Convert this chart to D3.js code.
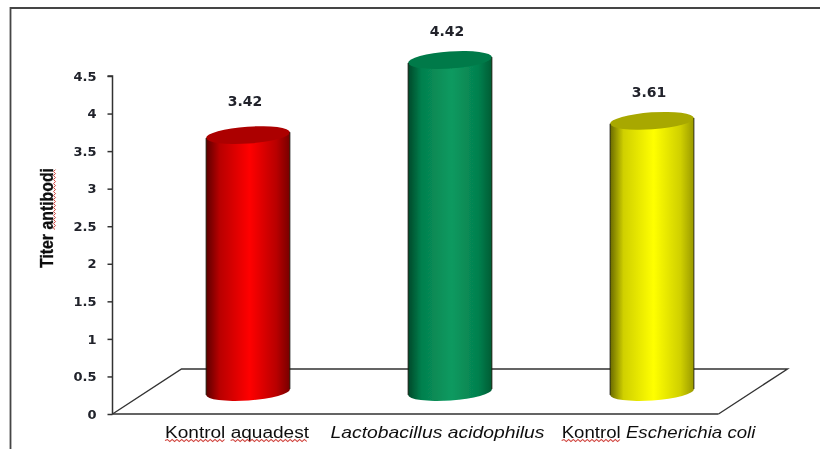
<!DOCTYPE html>
<html><head><meta charset="utf-8">
<script src="https://cdn.jsdelivr.net/npm/d3@7/dist/d3.min.js"></script>
<style>html,body{margin:0;padding:0;background:#fff;overflow:hidden}svg{display:block}</style>
</head><body><svg id="c" width="820" height="449"></svg>
<script>
const categories = ["Kontrol aquadest", "Lactobacillus acidophilus", "Kontrol Escherichia coli"];
const values = [3.42, 4.42, 3.61];
const yTicks = [0, 0.5, 1, 1.5, 2, 2.5, 3, 3.5, 4, 4.5];
const barColors = [
  ["#5c0000", "#b80000", "#ff0000", "#780000"],
  ["#00482a", "#05804e", "#0a9a60", "#005c34"],
  ["#6a6a00", "#d0d000", "#ffff00", "#9a9a00"]
];
const topColors = ["#ac0000", "#047a48", "#a8a800"];
const valueGap = [29, 24, 24];
const capLabels = [
  [{t:"Kontrol", wavy:true},{t:" "},{t:"aquadest", wavy:true}],
  [{t:"Lactobacillus acidophilus", it:true}],
  [{t:"Kontrol", wavy:true},{t:" "},{t:"Escherichia coli", it:true}]
];
const svg = d3.select("#c");
const defs = svg.append("defs");
defs.append("filter").attr("id","soft").attr("filterUnits","userSpaceOnUse")
  .attr("x",0).attr("y",0).attr("width",820).attr("height",449)
  .append("feGaussianBlur").attr("stdDeviation",0.6);
const g = svg.append("g").attr("filter","url(#soft)");

const W=820,H=449;
const x0=112.5, x1=718.5, y0=414, yTop=76, dx=69, dy=-45;
const y = d3.scaleLinear().domain([0,4.5]).range([y0,yTop]);
const x = d3.scaleBand().domain(categories).range([x0,x1]);
const baseY = y0 + dy/2 + 0.5;
const rx = 42, ry = 8.5, tilt = -4;

// frame
g.append("path").attr("d",`M${W},8 H10.5 V${H}`).attr("fill","none").attr("stroke","#444").attr("stroke-width",1.8);

// floor
g.append("path").attr("fill","none").attr("stroke","#333").attr("stroke-width",1.4)
 .attr("d",`M${x0},${y0} L${x0+dx},${y0+dy} H${x1+dx} L${x1},${y0}`);

// axis
const axis = g.append("g").attr("transform",`translate(${x0},0)`)
  .call(d3.axisLeft(y).tickValues(yTicks).tickSize(5).tickPadding(11).tickFormat(d3.format("~g")));
axis.selectAll("path,line").attr("stroke","#333").attr("stroke-width",1.5);
axis.select(".domain").attr("d",`M-5,${yTop}H0V${y0}H${x1-x0}`);
axis.selectAll("text").attr("font-family","'DejaVu Sans'").attr("font-weight","bold").attr("font-size",13).attr("fill","#20242c");

// cylinders
categories.forEach((c,i)=>{
  const cx = x(c)+x.bandwidth()/2+dx/2;
  const top = baseY-(y(0)-y(values[i]));
  const grad = defs.append("linearGradient").attr("id","g"+i);
  [[0,barColors[i][0]],[0.16,barColors[i][1]],[0.52,barColors[i][2]],[0.84,barColors[i][1]],[1,barColors[i][3]]]
    .forEach(s=>grad.append("stop").attr("offset",s[0]).attr("stop-color",s[1]));
  const a = tilt*Math.PI/180, ox = rx*Math.cos(a), oy = rx*Math.sin(a);
  g.append("path").attr("fill",`url(#g${i})`)
   .attr("d",`M${cx-ox},${top-oy} L${cx-ox},${baseY-oy} A${rx},${ry} ${tilt} 0 0 ${cx+ox},${baseY+oy} L${cx+ox},${top+oy} Z`);
  g.append("ellipse").attr("transform",`translate(${cx},${top}) rotate(${tilt})`)
   .attr("rx",rx).attr("ry",ry).attr("fill",topColors[i]);
  g.append("path").attr("fill","none").attr("stroke","#101000").attr("stroke-opacity",.8).attr("stroke-width",1)
   .attr("d",`M${cx-ox},${top-oy} V${baseY-oy} M${cx+ox},${top+oy} V${baseY+oy}`);
  g.append("text").attr("x",cx-3).attr("y",top-valueGap[i]).attr("text-anchor","middle")
   .attr("font-family","'DejaVu Sans'").attr("font-weight","bold").attr("font-size",14).attr("fill","#20242c")
   .text(d3.format(".2f")(values[i]));
});

function wavy(x,y,len){
  let d=`M${x},${y}`; const step=2; let up=true;
  for(let p=step;p<=len;p+=step){ d+=` L${x+p},${y+(up?-1:1)}`; up=!up; }
  return d;
}
// category labels
const labelX = [237, 437.5, 658.5];
const labelStretch = [1.19, 1.21, 1.166];
capLabels.forEach((parts,i)=>{
  const lg = g.append("g").attr("transform",`translate(${labelX[i]},438) scale(${labelStretch[i]},1)`);
  const t = lg.append("text").attr("text-anchor","middle")
    .attr("font-family","'Liberation Sans'").attr("font-size",16).attr("fill","#111");
  parts.forEach(p=>t.append("tspan").attr("font-style",p.it?"italic":"normal").style("white-space","pre").text(p.t));
  let idx=0;
  parts.forEach(p=>{
    if(p.wavy){
      const n=t.node();
      const sx=n.getStartPositionOfChar(idx).x, ex=n.getEndPositionOfChar(idx+p.t.length-1).x;
      lg.append("path").attr("d",wavy(sx,2.5,ex-sx)).attr("fill","none").attr("stroke","#d0403a").attr("stroke-width",1);
    }
    idx+=p.t.length;
  });
});

// y title
const ty = g.append("g").attr("transform","translate(52.5,218) rotate(-90)");
const tt = ty.append("text").attr("text-anchor","middle").attr("font-family","'Liberation Sans'")
  .attr("font-weight","bold").attr("font-size",18).attr("fill","#111").attr("stroke","#111").attr("stroke-width",0.3)
  .attr("textLength",100).attr("lengthAdjust","spacingAndGlyphs").text("Titer antibodi");
const n = tt.node();
const sx = n.getStartPositionOfChar(6).x, ex = n.getEndPositionOfChar(13).x;
ty.append("path").attr("d",wavy(sx,2,ex-sx)).attr("fill","none").attr("stroke","#d0403a").attr("stroke-width",1);
</script></body></html>
